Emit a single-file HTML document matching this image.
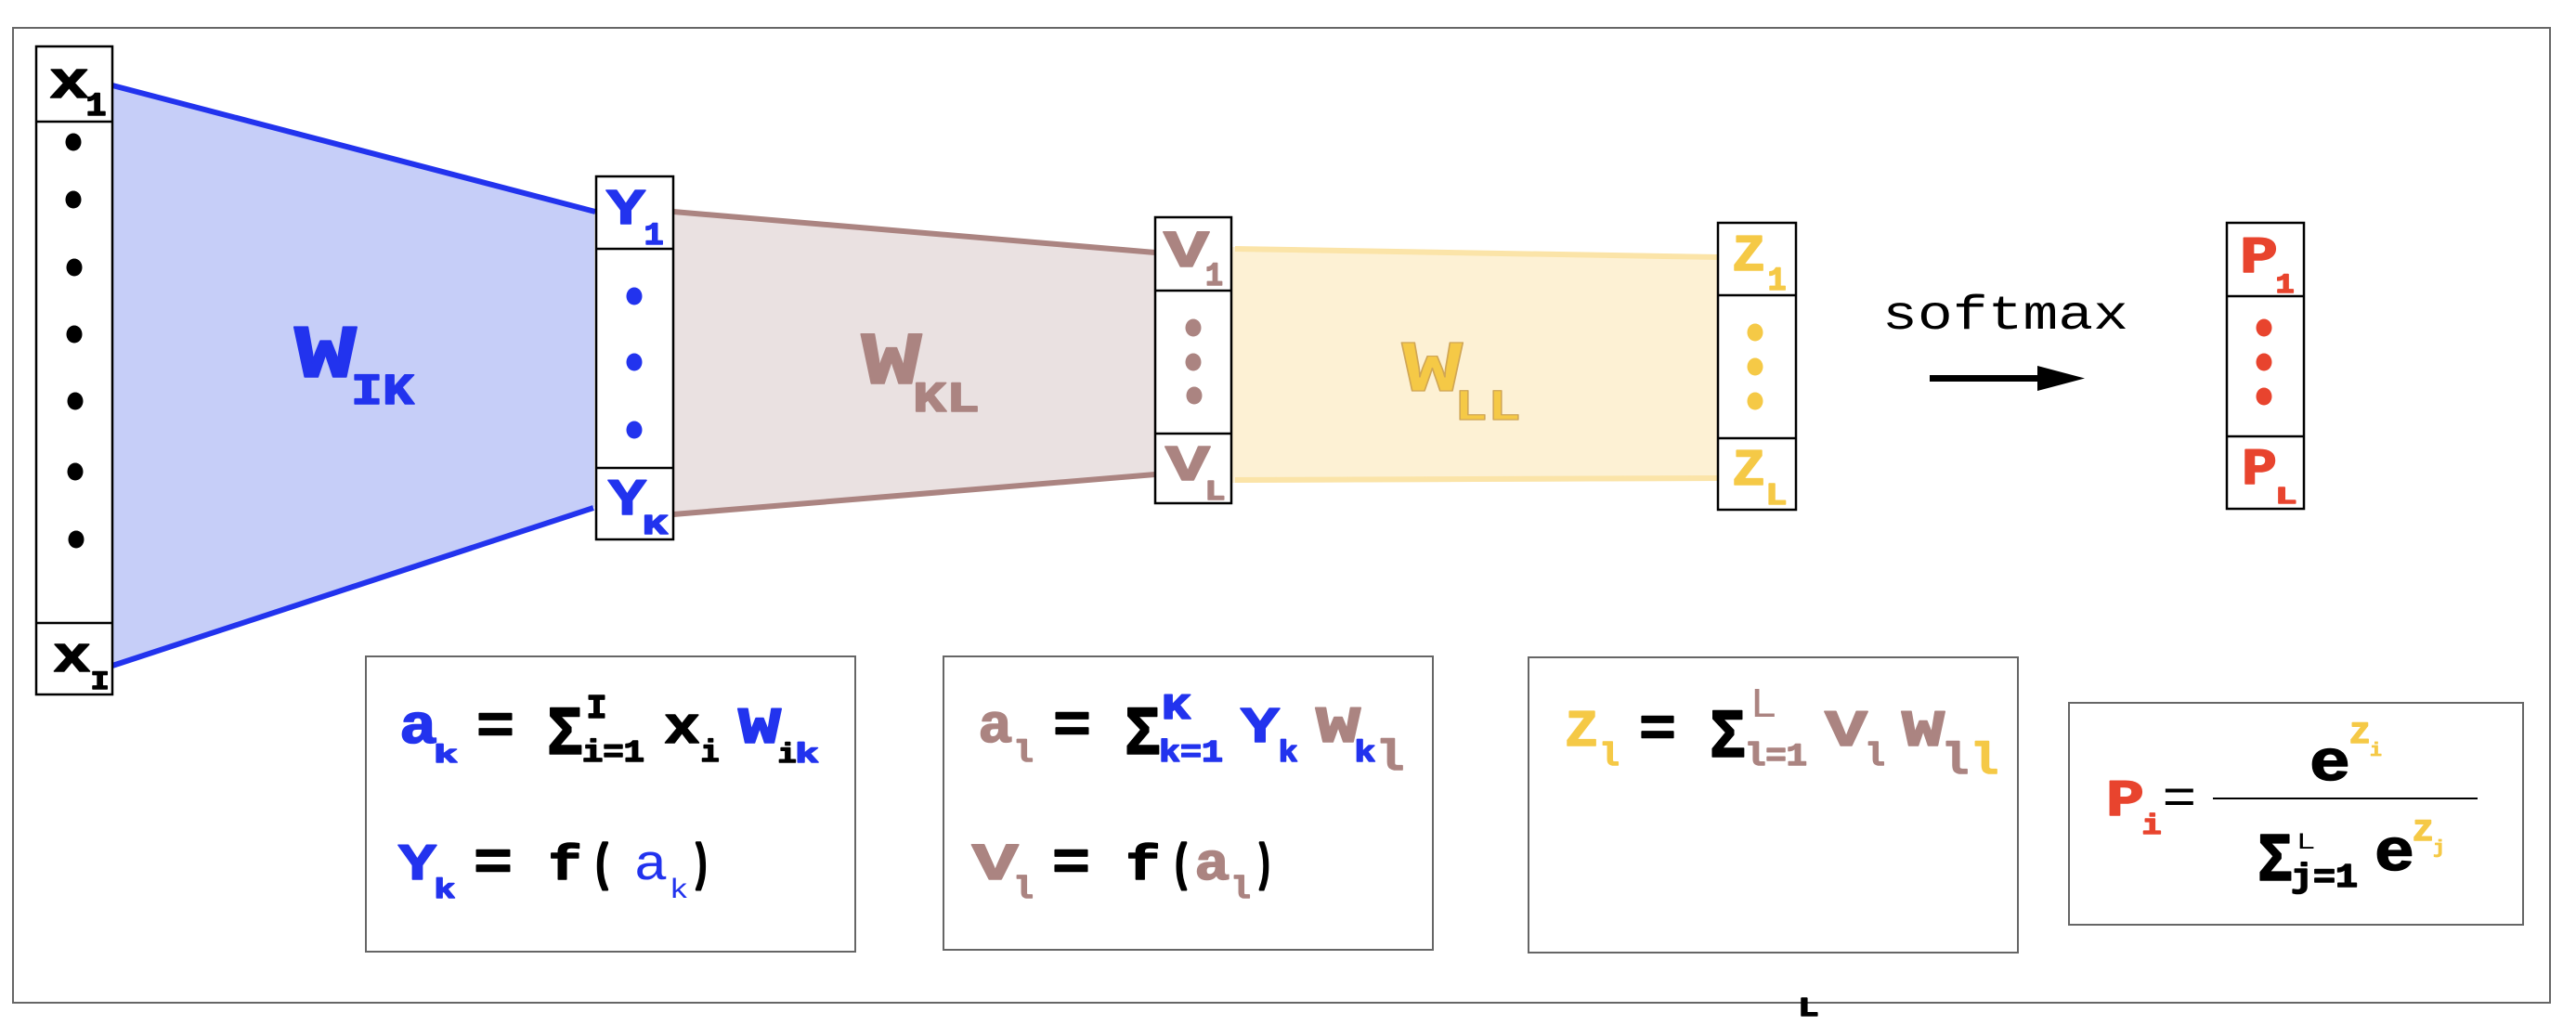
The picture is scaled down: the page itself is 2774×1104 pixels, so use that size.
<!DOCTYPE html>
<html>
<head>
<meta charset="utf-8">
<style>
html,body{margin:0;padding:0;background:#fff;}
svg{display:block;}
text{font-family:"Liberation Mono","DejaVu Sans Mono",monospace;font-weight:bold;stroke-width:1.6;stroke-linejoin:round;}
.r{font-weight:normal;stroke-width:0 !important;}
.bl{fill:#2233ee;stroke:#2233ee;}
.br{fill:#ab8481;stroke:#ab8481;}
.ye{fill:#f5c946;stroke:#f5c946;}
.rd{fill:#e8442e;stroke:#e8442e;}
.k{fill:#000;stroke:#000;}
.p{stroke-width:3;}
</style>
</head>
<body>
<svg width="2774" height="1104" viewBox="0 0 2774 1104" xmlns="http://www.w3.org/2000/svg">
<rect x="0" y="0" width="2774" height="1104" fill="#fff"/>
<!-- outer border -->
<rect x="14" y="30" width="2732" height="1050" fill="none" stroke="#666" stroke-width="2"/>

<!-- blue trapezoid -->
<polygon points="121,94 640,229 640,546 121,716" fill="#c6cef8"/>
<line x1="121" y1="92" x2="641" y2="228" stroke="#2233ee" stroke-width="6"/>
<line x1="121" y1="717" x2="639" y2="547" stroke="#2233ee" stroke-width="6"/>

<!-- brown trapezoid -->
<polygon points="725,229 1244,272 1244,511 725,554" fill="#eae1e1"/>
<line x1="725" y1="228" x2="1244" y2="272" stroke="#ab8481" stroke-width="6"/>
<line x1="725" y1="554" x2="1244" y2="511" stroke="#ab8481" stroke-width="6"/>

<!-- yellow band -->
<polygon points="1327,266 1850,275 1850,518 1327,520" fill="#fdf1d4"/>
<line x1="1330" y1="268" x2="1850" y2="277" stroke="#fbe4a8" stroke-width="6"/>
<line x1="1330" y1="517" x2="1850" y2="515" stroke="#fbe4a8" stroke-width="6"/>

<!-- columns -->
<g fill="#fff" stroke="#000" stroke-width="2.5">
<rect x="39" y="50" width="82" height="698"/>
<line x1="39" y1="131" x2="121" y2="131"/>
<line x1="39" y1="671" x2="121" y2="671"/>

<rect x="642" y="190" width="83" height="391"/>
<line x1="642" y1="268" x2="725" y2="268"/>
<line x1="642" y1="504" x2="725" y2="504"/>

<rect x="1244" y="234" width="82" height="308"/>
<line x1="1244" y1="313" x2="1326" y2="313"/>
<line x1="1244" y1="467" x2="1326" y2="467"/>

<rect x="1850" y="240" width="84" height="309"/>
<line x1="1850" y1="318" x2="1934" y2="318"/>
<line x1="1850" y1="472" x2="1934" y2="472"/>

<rect x="2398" y="240" width="83" height="308"/>
<line x1="2398" y1="319" x2="2481" y2="319"/>
<line x1="2398" y1="470" x2="2481" y2="470"/>
</g>

<!-- dots -->
<g fill="#000">
<ellipse cx="79" cy="153" rx="8.5" ry="9.5"/>
<ellipse cx="79" cy="215" rx="8.5" ry="9.5"/>
<ellipse cx="80" cy="288" rx="8.5" ry="9.5"/>
<ellipse cx="80" cy="360" rx="8.5" ry="9.5"/>
<ellipse cx="81" cy="432" rx="8.5" ry="9.5"/>
<ellipse cx="81" cy="508" rx="8.5" ry="9.5"/>
<ellipse cx="82" cy="581" rx="8.5" ry="9.5"/>
</g>
<g fill="#2233ee">
<ellipse cx="683" cy="319" rx="8.5" ry="9.5"/>
<ellipse cx="683" cy="390" rx="8.5" ry="9.5"/>
<ellipse cx="683" cy="463" rx="8.5" ry="9.5"/>
</g>
<g fill="#ab8481">
<ellipse cx="1285" cy="353" rx="8.5" ry="9.5"/>
<ellipse cx="1285" cy="390" rx="8.5" ry="9.5"/>
<ellipse cx="1286" cy="426" rx="8.5" ry="9.5"/>
</g>
<g fill="#f5c946">
<ellipse cx="1890" cy="358" rx="8.5" ry="9.5"/>
<ellipse cx="1890" cy="395" rx="8.5" ry="9.5"/>
<ellipse cx="1890" cy="432" rx="8.5" ry="9.5"/>
</g>
<g fill="#e8442e">
<ellipse cx="2438" cy="353" rx="8.5" ry="9.5"/>
<ellipse cx="2438" cy="390" rx="8.5" ry="9.5"/>
<ellipse cx="2438" cy="427" rx="8.5" ry="9.5"/>
</g>

<!-- column labels -->
<text class="k" x="53" y="105" font-size="57" textLength="43" lengthAdjust="spacingAndGlyphs">x</text>
<text class="k" x="92.5" y="124" font-size="35" textLength="22" lengthAdjust="spacingAndGlyphs">1</text>
<text class="k" x="57" y="723" font-size="55" textLength="41" lengthAdjust="spacingAndGlyphs">x</text>
<text class="k" x="97.6" y="742" font-size="28" textLength="20" lengthAdjust="spacingAndGlyphs">I</text>

<text class="bl" x="653" y="241" font-size="55" textLength="42" lengthAdjust="spacingAndGlyphs">Y</text>
<text class="bl" x="693.6" y="263" font-size="34" textLength="21" lengthAdjust="spacingAndGlyphs">1</text>
<text class="bl" x="655" y="554" font-size="56" textLength="41" lengthAdjust="spacingAndGlyphs">Y</text>
<text class="bl" x="692" y="575" font-size="31" textLength="27" lengthAdjust="spacingAndGlyphs">K</text>

<text class="br" x="1253" y="287" font-size="57" textLength="49" lengthAdjust="spacingAndGlyphs">V</text>
<text class="br" x="1298" y="307" font-size="35" textLength="19" lengthAdjust="spacingAndGlyphs">1</text>
<text class="br" x="1255" y="517" font-size="55" textLength="48" lengthAdjust="spacingAndGlyphs">V</text>
<text class="br" x="1297.5" y="538" font-size="31" textLength="22" lengthAdjust="spacingAndGlyphs">L</text>

<text class="ye" x="1865.6" y="291" font-size="56" textLength="35" lengthAdjust="spacingAndGlyphs">Z</text>
<text class="ye" x="1903.6" y="312" font-size="35" textLength="20" lengthAdjust="spacingAndGlyphs">1</text>
<text class="ye" x="1865.6" y="522" font-size="56" textLength="35" lengthAdjust="spacingAndGlyphs">Z</text>
<text class="ye" x="1901.4" y="543" font-size="33" textLength="23" lengthAdjust="spacingAndGlyphs">L</text>

<text class="rd" x="2412" y="293" font-size="56" textLength="41" lengthAdjust="spacingAndGlyphs">P</text>
<text class="rd" x="2450.6" y="315" font-size="30" textLength="20" lengthAdjust="spacingAndGlyphs">1</text>
<text class="rd" x="2414" y="521" font-size="56" textLength="38" lengthAdjust="spacingAndGlyphs">P</text>
<text class="rd" x="2450.4" y="542" font-size="26" textLength="23" lengthAdjust="spacingAndGlyphs">L</text>

<!-- big weight labels -->
<text class="bl" x="317" y="406" font-size="82" textLength="67" lengthAdjust="spacingAndGlyphs">W</text>
<text class="bl" x="378" y="435" font-size="47" textLength="68" lengthAdjust="spacingAndGlyphs">IK</text>
<text class="br" x="927.5" y="413" font-size="81" textLength="65" lengthAdjust="spacingAndGlyphs">W</text>
<text class="br" x="983" y="443" font-size="46" textLength="72" lengthAdjust="spacingAndGlyphs">KL</text>
<text class="ye" x="1509.4" y="421" font-size="79" textLength="66" lengthAdjust="spacingAndGlyphs" style="stroke:#d0a655;stroke-width:1.2">W</text>
<text class="ye" x="1566" y="452" font-size="47" textLength="72" lengthAdjust="spacingAndGlyphs" style="stroke:#d0a655;stroke-width:1.2">LL</text>

<!-- softmax arrow -->
<text class="k r" x="2027" y="354" font-size="52" textLength="265" lengthAdjust="spacingAndGlyphs">softmax</text>
<line x1="2078" y1="407.5" x2="2198" y2="407.5" stroke="#000" stroke-width="7"/>
<polygon points="2194,394 2245,407.5 2194,421" fill="#000"/>

<!-- formula box 1 -->
<rect x="394" y="707" width="527" height="318" fill="none" stroke="#666" stroke-width="2"/>
<text class="bl" x="430" y="800" font-size="60" textLength="41" lengthAdjust="spacingAndGlyphs">a</text>
<text class="bl" x="467" y="821" font-size="27" textLength="26" lengthAdjust="spacingAndGlyphs">k</text>
<text class="k" x="513" y="800" font-size="60" textLength="41" lengthAdjust="spacingAndGlyphs">=</text>
<text class="k" x="589" y="812" font-size="75" textLength="39" lengthAdjust="spacingAndGlyphs">Σ</text>
<text class="k" x="631.5" y="773" font-size="36" textLength="22" lengthAdjust="spacingAndGlyphs">I</text>
<text class="k" x="627" y="820" font-size="33" textLength="67" lengthAdjust="spacingAndGlyphs">i=1</text>
<text class="k" x="715" y="800" font-size="57" textLength="39" lengthAdjust="spacingAndGlyphs">x</text>
<text class="k" x="754.6" y="820" font-size="33" textLength="20" lengthAdjust="spacingAndGlyphs">i</text>
<text class="bl" x="795" y="800" font-size="56" textLength="46" lengthAdjust="spacingAndGlyphs">W</text>
<text class="k" x="837.6" y="821" font-size="30" textLength="20" lengthAdjust="spacingAndGlyphs">i</text>
<text class="bl" x="856" y="821" font-size="30" textLength="26" lengthAdjust="spacingAndGlyphs">k</text>

<text class="bl" x="429" y="947" font-size="56" textLength="41" lengthAdjust="spacingAndGlyphs">Y</text>
<text class="bl" x="467.4" y="967" font-size="30" textLength="23" lengthAdjust="spacingAndGlyphs">k</text>
<text class="k" x="510" y="947" font-size="60" textLength="42" lengthAdjust="spacingAndGlyphs">=</text>
<text class="k" x="590.5" y="947" font-size="53" textLength="36" lengthAdjust="spacingAndGlyphs">f</text>
<text class="k p" x="637.6" y="947" font-size="54" textLength="22" lengthAdjust="spacingAndGlyphs">(</text>
<text class="bl r" x="682.4" y="947" font-size="55" textLength="37" lengthAdjust="spacingAndGlyphs">a</text>
<text class="bl r" x="720.6" y="967" font-size="30" textLength="21" lengthAdjust="spacingAndGlyphs">k</text>
<text class="k p" x="744.7" y="947" font-size="54" textLength="20" lengthAdjust="spacingAndGlyphs">)</text>

<!-- formula box 2 -->
<rect x="1016" y="707" width="527" height="316" fill="none" stroke="#666" stroke-width="2"/>
<text class="br" x="1053.4" y="799" font-size="59" textLength="37" lengthAdjust="spacingAndGlyphs">a</text>
<text class="br" x="1091.6" y="820" font-size="32" textLength="21" lengthAdjust="spacingAndGlyphs">l</text>
<text class="k" x="1134" y="799" font-size="60" textLength="41" lengthAdjust="spacingAndGlyphs">=</text>
<text class="k" x="1211" y="812" font-size="75" textLength="39" lengthAdjust="spacingAndGlyphs">Σ</text>
<text class="bl" x="1251" y="774" font-size="39" textLength="31" lengthAdjust="spacingAndGlyphs">K</text>
<text class="bl" x="1248" y="820" font-size="33" textLength="69" lengthAdjust="spacingAndGlyphs">k=1</text>
<text class="bl" x="1336" y="799" font-size="55" textLength="42" lengthAdjust="spacingAndGlyphs">Y</text>
<text class="bl" x="1376.6" y="820" font-size="32" textLength="21" lengthAdjust="spacingAndGlyphs">k</text>
<text class="br" x="1417" y="799" font-size="56" textLength="48" lengthAdjust="spacingAndGlyphs">W</text>
<text class="bl" x="1458.4" y="820" font-size="32" textLength="23" lengthAdjust="spacingAndGlyphs">k</text>
<text class="br" x="1482" y="829" font-size="46" textLength="30" lengthAdjust="spacingAndGlyphs">l</text>

<text class="br" x="1046.6" y="947" font-size="57" textLength="50" lengthAdjust="spacingAndGlyphs">V</text>
<text class="br" x="1091.6" y="967" font-size="33" textLength="21" lengthAdjust="spacingAndGlyphs">l</text>
<text class="k" x="1133" y="947" font-size="60" textLength="41" lengthAdjust="spacingAndGlyphs">=</text>
<text class="k" x="1212.4" y="947" font-size="53" textLength="37" lengthAdjust="spacingAndGlyphs">f</text>
<text class="k p" x="1261.6" y="947" font-size="54" textLength="21" lengthAdjust="spacingAndGlyphs">(</text>
<text class="br" x="1286.4" y="947" font-size="57" textLength="38" lengthAdjust="spacingAndGlyphs">a</text>
<text class="br" x="1325.6" y="967" font-size="33" textLength="21" lengthAdjust="spacingAndGlyphs">l</text>
<text class="k p" x="1351.8" y="947" font-size="54" textLength="19" lengthAdjust="spacingAndGlyphs">)</text>

<!-- formula box 3 -->
<rect x="1646" y="708" width="527" height="318" fill="none" stroke="#666" stroke-width="2"/>
<text class="ye" x="1685.6" y="803" font-size="56" textLength="35" lengthAdjust="spacingAndGlyphs">Z</text>
<text class="ye" x="1722.6" y="824" font-size="34" textLength="21" lengthAdjust="spacingAndGlyphs">l</text>
<text class="k" x="1765" y="803" font-size="60" textLength="40" lengthAdjust="spacingAndGlyphs">=</text>
<text class="k" x="1841" y="815" font-size="75" textLength="39" lengthAdjust="spacingAndGlyphs">Σ</text>
<text class="br r" x="1884" y="772" font-size="45" textLength="30" lengthAdjust="spacingAndGlyphs">L</text>
<text class="br" x="1879" y="824" font-size="34" textLength="67" lengthAdjust="spacingAndGlyphs">l=1</text>
<text class="br" x="1965" y="803" font-size="56" textLength="46" lengthAdjust="spacingAndGlyphs">V</text>
<text class="br" x="2008.6" y="824" font-size="34" textLength="21" lengthAdjust="spacingAndGlyphs">l</text>
<text class="br" x="2048" y="803" font-size="56" textLength="46" lengthAdjust="spacingAndGlyphs">W</text>
<text class="br" x="2091" y="833" font-size="47" textLength="29" lengthAdjust="spacingAndGlyphs">l</text>
<text class="ye" x="2122" y="833" font-size="47" textLength="30" lengthAdjust="spacingAndGlyphs">l</text>

<!-- formula box 4 -->
<rect x="2228" y="757" width="489" height="239" fill="none" stroke="#666" stroke-width="2"/>
<text class="rd" x="2268" y="878" font-size="56" textLength="41" lengthAdjust="spacingAndGlyphs">P</text>
<text class="rd" x="2306.6" y="898" font-size="31" textLength="21" lengthAdjust="spacingAndGlyphs">i</text>
<text class="k r" x="2328.4" y="876" font-size="55" textLength="37" lengthAdjust="spacingAndGlyphs">=</text>
<line x1="2383" y1="860" x2="2668" y2="860" stroke="#000" stroke-width="2"/>
<text class="k" x="2487" y="840" font-size="62" textLength="44" lengthAdjust="spacingAndGlyphs">e</text>
<text class="ye" x="2530.6" y="800" font-size="32" textLength="21" lengthAdjust="spacingAndGlyphs">Z</text>
<text class="ye" x="2552" y="814" font-size="20" textLength="13" lengthAdjust="spacingAndGlyphs" style="stroke-width:0.8">i</text>
<text class="k" x="2431" y="948" font-size="74" textLength="38" lengthAdjust="spacingAndGlyphs">Σ</text>
<text class="k r" x="2472.6" y="914" font-size="25" textLength="21" lengthAdjust="spacingAndGlyphs">L</text>
<text class="k" x="2467" y="955" font-size="36" textLength="72" lengthAdjust="spacingAndGlyphs">j=1</text>
<text class="k" x="2557" y="937" font-size="64" textLength="43" lengthAdjust="spacingAndGlyphs">e</text>
<text class="ye" x="2598.6" y="905" font-size="32" textLength="21" lengthAdjust="spacingAndGlyphs">Z</text>
<text class="ye" x="2620" y="919" font-size="20" textLength="13" lengthAdjust="spacingAndGlyphs" style="stroke-width:0.8">j</text>

<!-- stray L at bottom -->
<text class="k" x="1936.5" y="1094" font-size="29" textLength="22" lengthAdjust="spacingAndGlyphs">L</text>
</svg>
</body>
</html>
